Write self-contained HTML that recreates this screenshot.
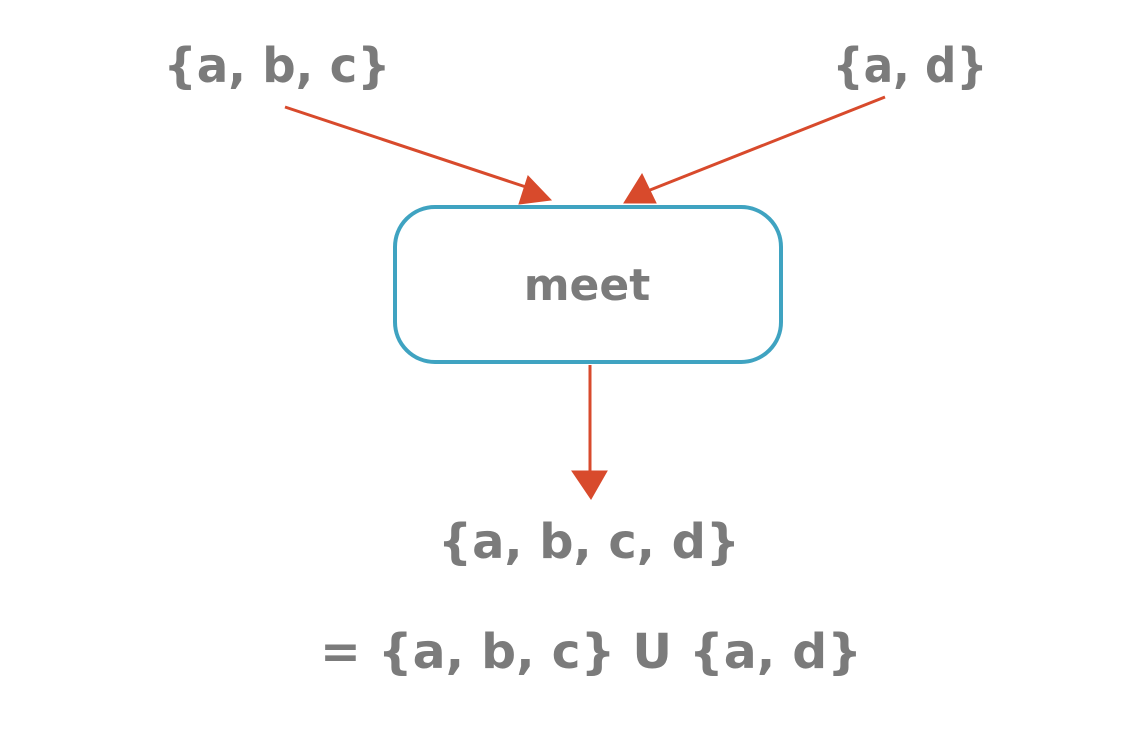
<!DOCTYPE html>
<html><head><style>
html,body{margin:0;padding:0;background:#fff;}
svg{display:block;}
text{font-family:"DejaVu Sans","Liberation Sans",sans-serif;font-weight:bold;fill:#7b7b7b;}
</style></head><body>
<svg width="1142" height="741" viewBox="0 0 1142 741" xmlns="http://www.w3.org/2000/svg">
<rect x="395" y="207" width="386" height="155" rx="40" fill="none" stroke="#3fa3c1" stroke-width="4"/>
<g stroke="#d84a2c" stroke-width="3" fill="#d84a2c">
<line x1="285" y1="107" x2="532" y2="189"/>
<polygon points="528,176 551,200 519,204" stroke-width="1"/>
<line x1="885" y1="97" x2="645" y2="192"/>
<polygon points="642,174 656,203 624,203" stroke-width="1"/>
<line x1="590" y1="365" x2="590" y2="472"/>
<polygon points="572,471 607,471 591,499" stroke-width="1"/>
</g>
<text x="277" y="82" font-size="48" text-anchor="middle" textLength="227" lengthAdjust="spacingAndGlyphs">{a, b, c}</text>
<text x="910" y="82" font-size="48" text-anchor="middle" textLength="155" lengthAdjust="spacingAndGlyphs">{a, d}</text>
<text x="587" y="300" font-size="44" text-anchor="middle">meet</text>
<text x="589" y="558" font-size="48" text-anchor="middle" textLength="302" lengthAdjust="spacingAndGlyphs">{a, b, c, d}</text>
<text x="591" y="668" font-size="48" text-anchor="middle" textLength="542" lengthAdjust="spacingAndGlyphs">= {a, b, c} U {a, d}</text>
</svg>
</body></html>
